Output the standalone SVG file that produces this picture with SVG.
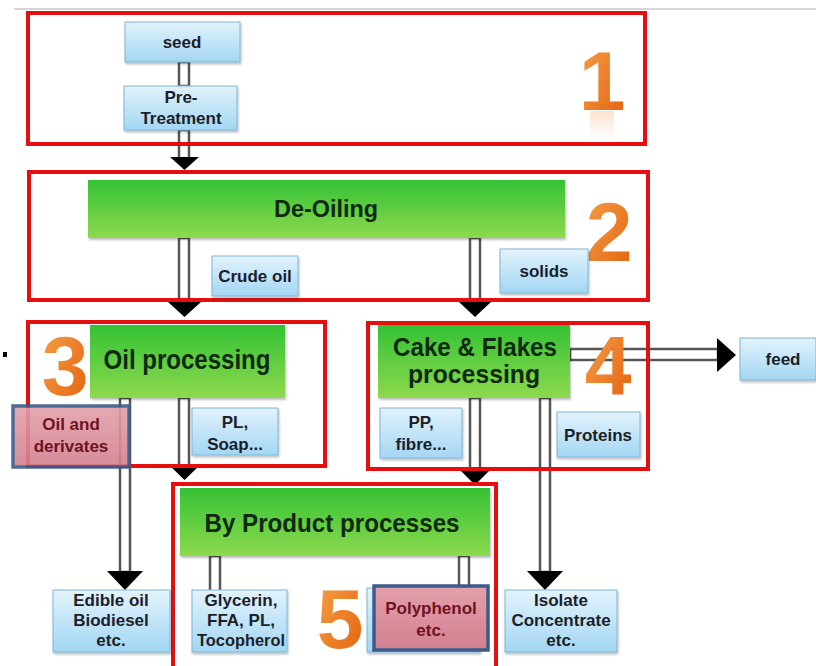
<svg xmlns="http://www.w3.org/2000/svg" width="816" height="666" viewBox="0 0 816 666">
  <defs>
    <linearGradient id="blueFill" x1="0" y1="0" x2="0" y2="1">
      <stop offset="0" stop-color="#e2f3fc"/>
      <stop offset="1" stop-color="#a3d6f3"/>
    </linearGradient>
    <linearGradient id="greenFill" x1="0" y1="0" x2="0" y2="1">
      <stop offset="0" stop-color="#34c234"/>
      <stop offset="1" stop-color="#8ed94e"/>
    </linearGradient>
    <linearGradient id="pinkFill" x1="0" y1="0" x2="0" y2="1">
      <stop offset="0" stop-color="#e3a0aa"/>
      <stop offset="1" stop-color="#d3808f"/>
    </linearGradient>
    <linearGradient id="orangeFill" x1="0" y1="0" x2="1" y2="1">
      <stop offset="0" stop-color="#f7a24a"/>
      <stop offset="1" stop-color="#e2600c"/>
    </linearGradient>
    <linearGradient id="glowFill" x1="0" y1="0" x2="0" y2="1">
      <stop offset="0" stop-color="#f29040" stop-opacity="0.25"/>
      <stop offset="1" stop-color="#f29040" stop-opacity="0"/>
    </linearGradient>
    <filter id="soft" x="-10%" y="-10%" width="130%" height="140%">
      <feDropShadow dx="1" dy="2" stdDeviation="1.2" flood-color="#000" flood-opacity="0.25"/>
    </filter>
  </defs>
  <style>
    .stage { fill: none; stroke: #e60f0f; stroke-width: 4; }
    .box { fill: url(#blueFill); stroke: #7fb6d8; stroke-width: 1; filter: url(#soft); }
    .pink { fill: url(#pinkFill); stroke: #3b5b8c; stroke-width: 3.5; }
    .bar { fill: url(#greenFill); filter: url(#soft); }
    .shaft { fill: #ffffff; stroke: #555555; stroke-width: 2.5; }
    .head { fill: #000000; }
    .glow { fill: url(#glowFill); }
    text { font-family: "Liberation Sans", Arial, sans-serif; font-weight: bold; text-anchor: middle; }
    .lbl { font-size: 17px; fill: #1b1f2a; }
    .lblred { font-size: 17px; fill: #6e1224; }
    .title { fill: #0f2a0f; }
    .num { font-size: 84px; fill: url(#orangeFill); }
  </style>

  <rect width="816" height="666" fill="#ffffff"/>
  <line x1="14" y1="9" x2="816" y2="9" stroke="#c8c8c8" stroke-width="1.5"/>
  <rect x="3" y="352" width="4" height="5" fill="#000"/>

  <!-- connectors: hollow shafts with black heads -->
  <g id="connectors">
    <rect class="shaft" x="179" y="62" width="10" height="24"/>
    <rect class="shaft" x="179" y="130" width="10" height="29"/>
    <path class="head" d="M170 157 L199 157 L184.5 170 Z"/>

    <rect class="shaft" x="179" y="238" width="10" height="66"/>
    <path class="head" d="M168 302 L201 302 L184.5 317 Z"/>
    <rect class="shaft" x="470" y="238" width="10" height="66"/>
    <path class="head" d="M459 302 L491 302 L475 317 Z"/>

    <rect class="shaft" x="120" y="398" width="10" height="174"/>
    <path class="head" d="M107 571 L143 571 L125 590 Z"/>
    <rect class="shaft" x="179" y="398" width="10" height="68"/>
    <path class="head" d="M168 464 L201 464 L184.5 480 Z"/>

    <rect class="shaft" x="470" y="398" width="10" height="73"/>
    <path class="head" d="M459 469 L491 469 L475 485 Z"/>
    <rect class="shaft" x="540" y="398" width="10" height="174"/>
    <path class="head" d="M527 571 L563 571 L545 590 Z"/>

    <rect class="shaft" x="570" y="349" width="148" height="11"/>
    <path class="head" d="M717 338 L717 372 L736 355 Z"/>

    <rect class="shaft" x="210" y="556" width="10" height="36"/>
    <rect class="shaft" x="459" y="556" width="10" height="32"/>
  </g>

  <!-- stage 1 -->
  <g id="stage1">
    <rect class="stage" x="28" y="13" width="617" height="131"/>
    <rect class="glow" x="590" y="111" width="24" height="28"/>
    <text class="num" x="602" y="110">1</text>
  </g>
  <g id="seed">
    <rect class="box" x="125" y="22" width="115" height="40"/>
    <text class="lbl" x="182" y="48">seed</text>
  </g>
  <g id="pretreatment">
    <rect class="box" x="124" y="86" width="113" height="44"/>
    <text class="lbl" x="181" y="103">Pre-</text>
    <text class="lbl" x="181" y="124">Treatment</text>
  </g>

  <!-- stage 2 -->
  <g id="stage2">
    <rect class="stage" x="29" y="172" width="619" height="128"/>
    <text class="num" x="609" y="261">2</text>
  </g>
  <g id="deoiling">
    <rect class="bar" x="88" y="180" width="477" height="58"/>
    <text class="title" x="326" y="217" font-size="24" textLength="104" lengthAdjust="spacingAndGlyphs">De-Oiling</text>
  </g>
  <g id="crude-oil">
    <rect class="box" x="212" y="256" width="86" height="40"/>
    <text class="lbl" x="255" y="282">Crude oil</text>
  </g>
  <g id="solids">
    <rect class="box" x="500" y="249" width="88" height="44"/>
    <text class="lbl" x="544" y="277">solids</text>
  </g>

  <!-- stage 3 -->
  <g id="stage3">
    <rect class="stage" x="28" y="322" width="297" height="144"/>
    <text class="num" x="65" y="395">3</text>
  </g>
  <g id="oil-processing">
    <rect class="bar" x="90" y="325" width="195" height="73"/>
    <text class="title" x="187" y="369" font-size="27" textLength="167" lengthAdjust="spacingAndGlyphs">Oil processing</text>
  </g>
  <g id="oil-derivates">
    <rect class="pink" x="13" y="406" width="116" height="61" opacity="0.9"/>
    <text class="lblred" x="71" y="430">Oil and</text>
    <text class="lblred" x="71" y="452">derivates</text>
  </g>
  <g id="pl-soap">
    <rect class="box" x="192" y="408" width="86" height="47"/>
    <text class="lbl" x="235" y="428">PL,</text>
    <text class="lbl" x="235" y="450">Soap...</text>
  </g>

  <!-- stage 4 -->
  <g id="stage4">
    <rect class="stage" x="368" y="323" width="280" height="146"/>
    <text class="num" x="608" y="395">4</text>
  </g>
  <g id="cake-flakes">
    <rect class="bar" x="378" y="325" width="192" height="73"/>
    <text class="title" x="475" y="356" font-size="25" textLength="164" lengthAdjust="spacingAndGlyphs">Cake &amp; Flakes</text>
    <text class="title" x="474" y="383" font-size="25" textLength="132" lengthAdjust="spacingAndGlyphs">processing</text>
  </g>
  <g id="feed">
    <rect class="box" x="740" y="338" width="76" height="42"/>
    <text class="lbl" x="783" y="365">feed</text>
  </g>
  <g id="pp-fibre">
    <rect class="box" x="380" y="408" width="82" height="50"/>
    <text class="lbl" x="421" y="428">PP,</text>
    <text class="lbl" x="421" y="450">fibre...</text>
  </g>
  <g id="proteins">
    <rect class="box" x="557" y="412" width="83" height="45"/>
    <text class="lbl" x="598" y="441">Proteins</text>
  </g>

  <!-- stage 5 -->
  <g id="stage5">
    <rect class="stage" x="173" y="484" width="323" height="184"/>
    <text class="num" x="340" y="648">5</text>
  </g>
  <g id="by-product">
    <rect class="bar" x="180" y="488" width="310" height="68"/>
    <text class="title" x="332" y="532" font-size="25" textLength="255" lengthAdjust="spacingAndGlyphs">By Product processes</text>
  </g>
  <g id="glycerin">
    <rect class="box" x="192" y="590" width="95" height="62"/>
    <text class="lbl" x="241" y="606">Glycerin,</text>
    <text class="lbl" x="241" y="626">FFA, PL,</text>
    <text class="lbl" x="241" y="646" textLength="88" lengthAdjust="spacingAndGlyphs">Tocopherol</text>
  </g>
  <g id="polyphenol">
    <rect class="box" x="367" y="588" width="113" height="64"/>
    <rect class="pink" x="374" y="586" width="114" height="64"/>
    <text class="lblred" x="431" y="614">Polyphenol</text>
    <text class="lblred" x="431" y="636">etc.</text>
  </g>
  <g id="edible-oil">
    <rect class="box" x="53" y="590" width="117" height="62"/>
    <text class="lbl" x="111" y="606">Edible oil</text>
    <text class="lbl" x="111" y="626">Biodiesel</text>
    <text class="lbl" x="111" y="646">etc.</text>
  </g>
  <g id="isolate">
    <rect class="box" x="505" y="590" width="112" height="62"/>
    <text class="lbl" x="561" y="606">Isolate</text>
    <text class="lbl" x="561" y="626">Concentrate</text>
    <text class="lbl" x="561" y="646">etc.</text>
  </g>
</svg>
